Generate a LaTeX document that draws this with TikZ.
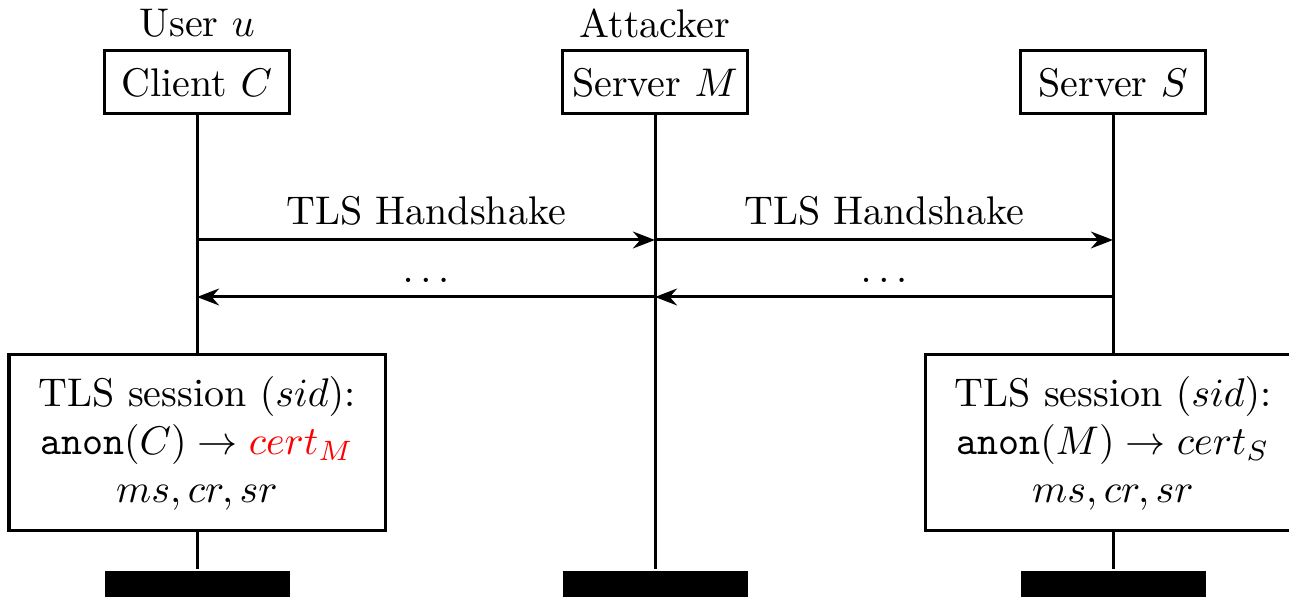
\documentclass[tikz,border=0pt]{standalone}
\usetikzlibrary{arrows.meta}
\begin{document}
\begin{tikzpicture}[x=0.25pt,y=-0.25pt,line width=0.75pt,
  actor/.style={draw,minimum width=46.25pt,minimum height=15.75pt,inner sep=0pt},
  role/.style={inner sep=0pt},
  session/.style={draw,minimum width=94pt,minimum height=44pt,align=center,inner sep=0pt},
  endbar/.style={fill=black,minimum width=46.25pt,minimum height=7.25pt,inner sep=0pt},
  msg/.style={-{Stealth[length=5.5pt,width=4.2pt,inset=1.8pt]}},
  lifeline/.style={draw}]
\useasboundingbox (0,0) rectangle (1289,597);

% participants
\node[role]  (uC) at (197,23) {User $u$};
\node[role]  (uM) at (655,23) {Attacker};
\node[actor] (C)  at (197,82.5)  {Client $C$};
\node[actor] (M)  at (655,82.5)  {Server $M$};
\node[actor] (S)  at (1113,82.5) {Server $S$};

% session states
\node[session] (sC) at (197,443) {TLS session $(sid)$:\\
  \texttt{anon}$(C)\rightarrow \textcolor{red}{cert_M}$\\ $ms,cr,sr$};
\node[session] (sS) at (1113,443) {TLS session $(sid)$:\\
  \texttt{anon}$(M)\rightarrow cert_S$\\ $ms,cr,sr$};

% end markers
\node[endbar] (eC) at (197,585.5) {};
\node[endbar] (eM) at (655,585.5) {};
\node[endbar] (eS) at (1113,585.5) {};

% lifelines
\draw[lifeline] (C.south) -- (sC.north);
\draw[lifeline] (sC.south) -- (eC.north);
\draw[lifeline] (M.south) -- (eM.north);
\draw[lifeline] (S.south) -- (sS.north);
\draw[lifeline] (sS.south) -- (eS.north);

% message points on the lifelines
\coordinate (c1) at (197,240);
\coordinate (m1) at (655,240);
\coordinate (s1) at (1113,240);
\coordinate (c2) at (197,297);
\coordinate (m2) at (655,297);
\coordinate (s2) at (1113,297);

% messages
\draw[msg] (c1) -- node[above] {TLS Handshake} (m1);
\draw[msg] (m1) -- node[above] {TLS Handshake} (s1);
\draw[msg] (m2) -- node[above] {$\ldots$} (c2);
\draw[msg] (s2) -- node[above] {$\ldots$} (m2);
\end{tikzpicture}
\end{document}
